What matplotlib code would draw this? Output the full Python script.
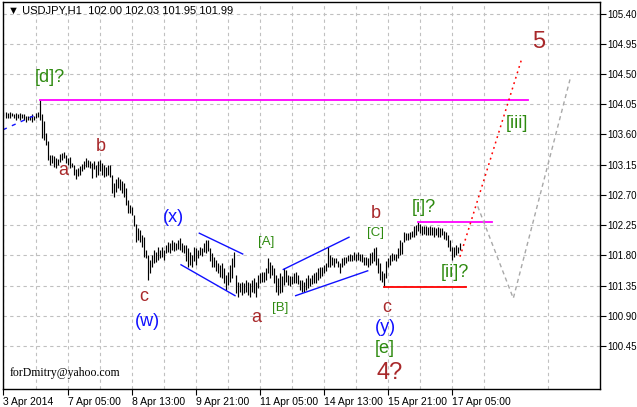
import numpy as np
import pandas as pd
import matplotlib
matplotlib.use('Agg')
import matplotlib.pyplot as plt


# USDJPY H1 bars (bar highs and lows)
highs = [
    103.94, 103.94, 103.92, 103.94, 103.92, 103.91, 103.92, 103.91, 103.92, 103.90,
    103.91, 103.88, 103.87, 103.88, 103.90, 103.88, 103.92, 103.93, 104.12, 103.90,
    103.80, 103.62, 103.50, 103.30, 103.30, 103.28, 103.25, 103.24, 103.31, 103.33,
    103.34, 103.30, 103.25, 103.27, 103.18, 103.15, 103.08, 103.10, 103.13, 103.16,
    103.20, 103.25, 103.22, 103.20, 103.18, 103.20, 103.15, 103.20, 103.22, 103.18,
    103.15, 103.12, 103.14, 103.15, 103.00, 102.88, 102.93, 102.96, 102.93, 102.90,
    102.88, 102.81, 102.63, 102.55, 102.52, 102.40, 102.26, 102.21, 102.18, 102.11,
    102.08, 101.88, 101.81, 101.73, 101.81, 101.88, 101.85, 101.93, 101.88, 101.93,
    101.88, 101.96, 102.00, 101.98, 102.03, 102.00, 101.98, 102.03, 102.06, 101.98,
    101.96, 101.96, 101.91, 101.85, 101.81, 101.93, 101.91, 101.88, 101.93, 101.91,
    101.99, 102.03, 102.03, 101.91, 101.84, 101.78, 101.73, 101.69, 101.66, 101.69,
    101.61, 101.51, 101.55, 101.66, 101.76, 101.85, 101.51, 101.41, 101.39, 101.41,
    101.39, 101.44, 101.41, 101.39, 101.44, 101.47, 101.41, 101.51, 101.54, 101.55,
    101.55, 101.61, 101.76, 101.70, 101.66, 101.61, 101.51, 101.47, 101.54, 101.49,
    101.61, 101.58, 101.51, 101.49, 101.49, 101.54, 101.55, 101.51, 101.44, 101.44,
    101.41, 101.46, 101.51, 101.46, 101.51, 101.54, 101.55, 101.61, 101.63, 101.63,
    101.66, 101.68, 101.93, 101.81, 101.78, 101.76, 101.76, 101.71, 101.69, 101.76,
    101.78, 101.78, 101.81, 101.82, 101.81, 101.85, 101.82, 101.85, 101.82, 101.82,
    101.78, 101.78, 101.76, 101.84, 101.85, 101.91, 101.93, 101.76, 101.69, 101.56,
    101.54, 101.71, 101.76, 101.81, 101.84, 101.82, 101.82, 101.91, 102.03, 102.00,
    102.15, 102.13, 102.13, 102.15, 102.17, 102.23, 102.25, 102.29, 102.27, 102.24,
    102.24, 102.24, 102.22, 102.24, 102.22, 102.22, 102.20, 102.22, 102.20, 102.20,
    102.17, 102.15, 102.11, 102.03, 101.93, 101.93, 101.96, 101.93, 101.98,
]
lows = [
    103.87, 103.85, 103.85, 103.84, 103.87, 103.84, 103.82, 103.84, 103.81, 103.84,
    103.82, 103.79, 103.81, 103.81, 103.79, 103.82, 103.85, 103.86, 103.82, 103.55,
    103.52, 103.45, 103.22, 103.15, 103.17, 103.12, 103.10, 103.14, 103.19, 103.22,
    103.25, 103.17, 103.15, 103.10, 103.12, 103.00, 102.93, 102.98, 103.00, 103.05,
    103.08, 103.12, 103.12, 103.10, 102.95, 103.08, 102.97, 103.00, 103.05, 103.00,
    102.97, 102.98, 102.99, 102.97, 102.73, 102.67, 102.75, 102.81, 102.78, 102.73,
    102.67, 102.55, 102.43, 102.43, 102.40, 102.23, 102.00, 102.03, 102.00, 101.93,
    101.78, 101.76, 101.44, 101.54, 101.62, 101.69, 101.70, 101.73, 101.76, 101.78,
    101.73, 101.84, 101.85, 101.84, 101.88, 101.86, 101.88, 101.90, 101.88, 101.85,
    101.84, 101.71, 101.62, 101.66, 101.62, 101.71, 101.66, 101.76, 101.81, 101.79,
    101.85, 101.84, 101.86, 101.71, 101.63, 101.62, 101.56, 101.54, 101.48, 101.47,
    101.39, 101.29, 101.36, 101.41, 101.47, 101.62, 101.24, 101.18, 101.26, 101.21,
    101.24, 101.26, 101.21, 101.18, 101.26, 101.24, 101.18, 101.32, 101.39, 101.41,
    101.41, 101.44, 101.54, 101.47, 101.51, 101.39, 101.26, 101.21, 101.24, 101.26,
    101.36, 101.41, 101.36, 101.35, 101.37, 101.39, 101.39, 101.37, 101.29, 101.26,
    101.26, 101.29, 101.32, 101.34, 101.37, 101.39, 101.39, 101.44, 101.46, 101.49,
    101.54, 101.56, 101.63, 101.62, 101.66, 101.63, 101.68, 101.62, 101.54, 101.62,
    101.66, 101.69, 101.71, 101.71, 101.71, 101.73, 101.71, 101.73, 101.71, 101.70,
    101.66, 101.66, 101.62, 101.66, 101.68, 101.71, 101.66, 101.54, 101.44, 101.41,
    101.33, 101.47, 101.62, 101.66, 101.71, 101.73, 101.71, 101.76, 101.81, 101.82,
    102.00, 102.03, 102.03, 102.05, 102.08, 102.08, 102.11, 102.16, 102.13, 102.10,
    102.12, 102.10, 102.10, 102.10, 102.10, 102.08, 102.10, 102.08, 102.08, 102.10,
    102.05, 102.03, 101.93, 101.86, 101.73, 101.78, 101.81, 101.84, 101.88,
]

time_ticks = [0, 32, 64, 96, 128, 160, 192, 224]
time_labels = ['3 Apr 2014', '7 Apr 05:00', '8 Apr 13:00', '9 Apr 21:00',
               '11 Apr 05:00', '14 Apr 13:00', '15 Apr 21:00', '17 Apr 05:00']
price_ticks = [100.45, 100.90, 101.35, 101.80, 102.25, 102.70,
               103.15, 103.60, 104.05, 104.50, 104.95, 105.40]

# wave markup: (bar index, price) pairs
d_level = ([18, 262], [104.12, 104.12])
i_level = ([207, 244], [102.29, 102.29])
c_level = ([190, 231], [101.33, 101.33])
wave_iii_path = ([228.25, 259.25], [101.78, 104.74])
alt_path = ([237.1, 254.9, 283.25], [102.53, 101.16, 104.42])
old_trend = ([-0.25, 16.75], [103.67, 103.90])
channel_x_up = ([97.9, 119.6], [102.13, 101.82])
channel_x_dn = ([88.75, 115.75], [101.66, 101.20])
channel_y_up = ([139.9, 172.75], [101.59, 102.07])
channel_y_dn = ([146.1, 182.1], [101.20, 101.57])

red = '#a8282a'
green = '#2e8a10'
blue = '#1010ff'
labels = [
    ('[d]?', 23.25, 104.45, green, 13),
    ('b', 48.75, 103.42, red, 13),
    ('a', 29.75, 103.07, red, 13),
    ('c', 70.25, 101.18, red, 13),
    ('(w)', 71.75, 100.81, blue, 13),
    ('(x)', 84.75, 102.37, blue, 13),
    ('[A]', 131.25, 102.00, green, 9.5),
    ('a', 126.25, 100.88, red, 13),
    ('[B]', 138.25, 101.02, green, 9.5),
    ('[C]', 185.75, 102.13, green, 9.5),
    ('b', 186.25, 102.42, red, 13),
    ('c', 191.75, 101.03, red, 13),
    ('(y)', 190.75, 100.73, blue, 13),
    ('[e]', 190.75, 100.41, green, 13),
    ('4?', 193.25, 100.05, red, 17),
    ('[i]?', 210.25, 102.51, green, 13),
    ('[ii]?', 225.75, 101.55, green, 13),
    ('[iii]', 256.75, 103.76, green, 13),
    ('5', 267.75, 104.97, red, 17),
]

bars = pd.DataFrame({'high': highs, 'low': lows})
bars['idx'] = np.arange(len(bars))

plt.rcParams['font.family'] = ['Liberation Sans', 'DejaVu Sans']

fig, ax = plt.subplots(figsize=(6.37, 4.07), dpi=100)
fig.subplots_adjust(left=3 / 637, right=600 / 637, bottom=18 / 407, top=1 - 1.5 / 407)

ax.vlines(bars['idx'], bars['low'], bars['high'], color='black', lw=0.85)

ax.plot(*d_level, color='#ff00ff', lw=1.3)
ax.plot(*i_level, color='#ff00ff', lw=1.3)
ax.plot(*c_level, color='#ff0000', lw=1.3)
ax.plot(*wave_iii_path, color='#ff0000', lw=1.1, ls=(0, (1.2, 2.5)))
ax.plot(*alt_path, color='#a8a8a8', lw=1.0, ls=(0, (3, 2.5)))
ax.plot(*old_trend, color=blue, lw=1.0, ls=(0, (3, 4)))
for line in [channel_x_up, channel_x_dn, channel_y_up, channel_y_dn]:
    ax.plot(*line, color=blue, lw=1.0)

for text, x, y, color, size in labels:
    ax.text(x, y, text, color=color, fontsize=size, ha='center', va='center')

ax.text(0.012, 0.042, 'forDmitry@yahoo.com', transform=ax.transAxes,
        family='Liberation Serif', fontsize=8.5, va='center')
ax.text(0.008, 0.977, '\u25bc USDJPY,H1  102.00 102.03 101.95 101.99',
        transform=ax.transAxes, fontsize=8, va='center')

ax.set_xlim(-0.25, 298.25)
ax.set_ylim(99.81, 105.58)

ax.yaxis.tick_right()
ax.set_yticks(price_ticks)
ax.set_yticklabels(['%.2f' % p for p in price_ticks], fontsize=7)
ax.tick_params(axis='y', direction='out', length=4, width=0.8, pad=1)

ax.set_xticks(time_ticks)
ax.set_xticklabels(time_labels, fontsize=7.5, ha='left')
ax.set_xticks(np.arange(16, 298, 32), minor=True)
ax.tick_params(axis='x', which='major', direction='out', length=4, width=0.8, pad=2)
ax.tick_params(axis='x', which='minor', length=0)

ax.grid(True, which='both', color='#c0c0c0', lw=0.8, ls=(0, (3, 3)))
ax.set_axisbelow(True)
for spine in ax.spines.values():
    spine.set_color('black')
    spine.set_linewidth(1.0)

fig.savefig('out.png', dpi=100)
